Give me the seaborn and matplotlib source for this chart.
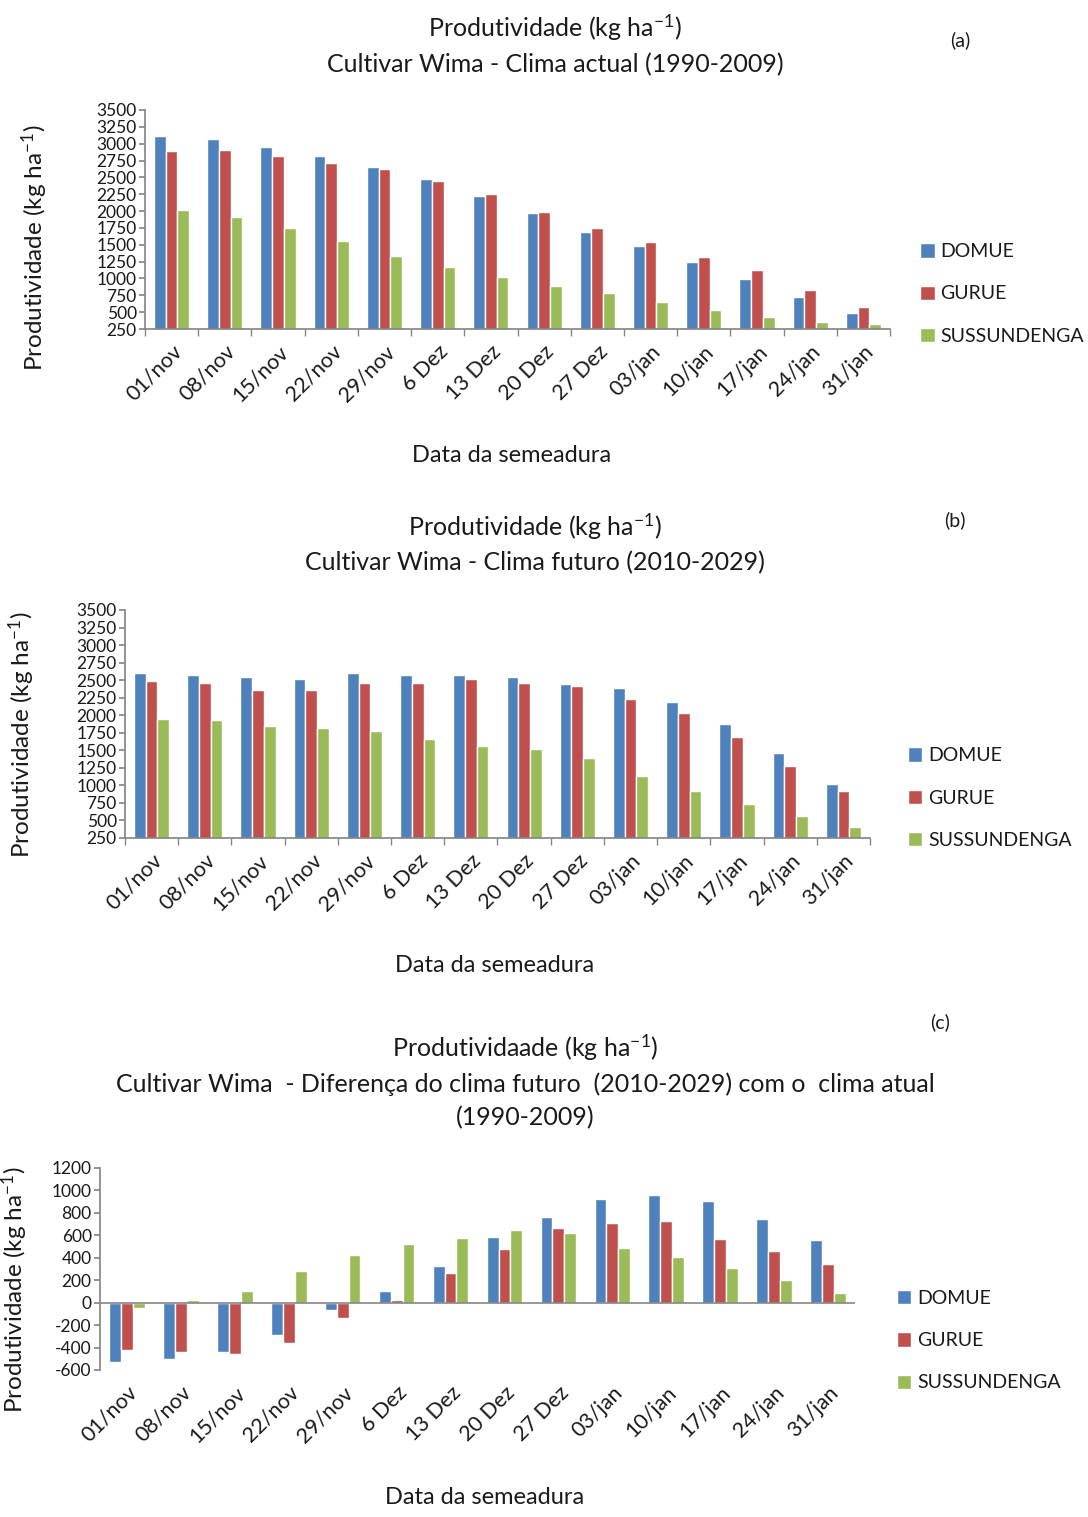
import numpy as np
import pandas as pd
import matplotlib
matplotlib.use('Agg')
import matplotlib.pyplot as plt
import seaborn as sns

datas = ['01/nov', '08/nov', '15/nov', '22/nov', '29/nov', '6 Dez', '13 Dez',
         '20 Dez', '27 Dez', '03/jan', '10/jan', '17/jan', '24/jan', '31/jan']
locais = ['DOMUE', 'GURUE', 'SUSSUNDENGA']
cores = ['#4F81BD', '#C0504D', '#9BBB59']

# (a) clima actual 1990-2009
atual_domue = [3115, 3065, 2955, 2820, 2660, 2470, 2230, 1965, 1695, 1475, 1240, 995, 730, 487]
atual_gurue = [2895, 2900, 2820, 2710, 2625, 2445, 2255, 1990, 1745, 1535, 1315, 1130, 835, 570]
atual_suss = [2010, 1910, 1745, 1555, 1340, 1165, 1020, 890, 785, 650, 537, 428, 349, 324]

# (b) clima futuro 2010-2029
futuro_domue = [2595, 2570, 2540, 2515, 2595, 2570, 2570, 2540, 2440, 2385, 2185, 1875, 1460, 1020]
futuro_gurue = [2490, 2465, 2360, 2360, 2465, 2465, 2510, 2465, 2420, 2235, 2030, 1690, 1280, 915]
futuro_suss = [1950, 1925, 1850, 1815, 1770, 1665, 1565, 1515, 1390, 1130, 925, 740, 570, 400]

# (c) diferenca futuro - actual
dif_domue = [-530, -500, -440, -290, -65, 105, 330, 585, 765, 925, 955, 910, 745, 555]
dif_gurue = [-420, -440, -455, -355, -140, 20, 265, 475, 665, 710, 730, 570, 460, 345]
dif_suss = [-50, 20, 105, 285, 425, 525, 575, 650, 620, 490, 410, 310, 200, 90]

sns.set_theme(style='white')
plt.rcParams['font.family'] = ['Lato', 'DejaVu Sans']
plt.rcParams['mathtext.fontset'] = 'custom'
plt.rcParams['mathtext.rm'] = 'Lato'
plt.rcParams['mathtext.default'] = 'regular'
plt.rcParams['text.color'] = '#1a1a1a'
plt.rcParams['xtick.color'] = '#1a1a1a'
plt.rcParams['ytick.color'] = '#1a1a1a'

cinza = '#868686'
ylab = r'Produtividade (kg ha$^{-1}$)'


def tabela(domue, gurue, suss):
    return pd.DataFrame({
        'Data': datas * 3,
        'Local': np.repeat(locais, len(datas)),
        'Produtividade': domue + gurue + suss,
    })


def painel(ax, df, ylim, yticks, leg_y, leg_x, zero_line=False):
    sns.barplot(data=df, x='Data', y='Produtividade', hue='Local',
                palette=dict(zip(locais, cores)), width=0.66, gap=0,
                saturation=1, ax=ax)
    ax.set_ylim(*ylim)
    ax.set_xlim(-0.5, len(datas) - 0.5)
    ax.set_yticks(yticks)
    ax.set_yticklabels([str(t) for t in yticks], fontsize=12.5)
    ax.set_xticks(range(len(datas)))
    ax.set_xticklabels(datas, rotation=45, ha='right', rotation_mode='anchor', fontsize=15.5)
    ax.set_xticks(np.arange(-0.5, len(datas), 1), minor=True)
    ax.tick_params(axis='x', which='major', length=0, pad=9)
    ax.tick_params(axis='x', which='minor', length=5, color=cinza, direction='out', bottom=True)
    ax.tick_params(axis='y', length=4, color=cinza, direction='out', left=True, pad=2)
    for s in ['top', 'right']:
        ax.spines[s].set_visible(False)
    ax.spines['left'].set_color(cinza)
    ax.spines['bottom'].set_color(cinza)
    if zero_line:
        ax.spines['bottom'].set_visible(False)
        ax.axhline(0, color=cinza, lw=1.2)
        ax.tick_params(axis='x', which='minor', length=0)
    ax.set_xlabel('')
    ax.set_ylabel('')
    ax.legend(loc='center left', bbox_to_anchor=(leg_x, leg_y), frameon=False,
              handlelength=0.75, handleheight=0.75, handletextpad=0.3,
              labelspacing=1.3, fontsize=14, borderaxespad=0)


fig = plt.figure(figsize=(10.88, 15.17), dpi=100)
W, H = 1088, 1517


def eixo(left, top, right, bottom):
    return fig.add_axes([left / W, 1 - bottom / H, (right - left) / W, (bottom - top) / H])


ax_a = eixo(145, 110, 890, 329)
painel(ax_a, tabela(atual_domue, atual_gurue, atual_suss), (250, 3500),
       list(range(250, 3501, 250)), 0.16, 1.03)
ax_b = eixo(125, 610, 870, 838)
painel(ax_b, tabela(futuro_domue, futuro_gurue, futuro_suss), (250, 3500),
       list(range(250, 3501, 250)), 0.175, 1.04)
ax_c = eixo(100, 1168, 855, 1370)
painel(ax_c, tabela(dif_domue, dif_gurue, dif_suss), (-600, 1200),
       list(range(-600, 1201, 200)), 0.145, 1.045, zero_line=True)


def texto(x, y, s, **kw):
    fig.text(x / W, 1 - y / H, s, ha='center', va='center', **kw)


# titulos
texto(555, 28, ylab, fontsize=18)
texto(555, 65, 'Cultivar Wima - Clima actual (1990-2009)', fontsize=18)
texto(960, 40, '(a)', fontsize=14)
texto(535, 527, ylab, fontsize=18)
texto(535, 563, 'Cultivar Wima - Clima futuro (2010-2029)', fontsize=18)
texto(955, 520, '(b)', fontsize=14)
texto(525, 1048, r'Produtividaade (kg ha$^{-1}$)', fontsize=18)
texto(525, 1084, 'Cultivar Wima  - Diferença do clima futuro  (2010-2029) com o  clima atual', fontsize=18)
texto(525, 1118, '(1990-2009)', fontsize=18)
texto(940, 1022, '(c)', fontsize=14)

# eixos
texto(512, 455, 'Data da semeadura', fontsize=17)
texto(495, 965, 'Data da semeadura', fontsize=17)
texto(485, 1497, 'Data da semeadura', fontsize=17)
texto(35, 248, ylab, fontsize=17.5, rotation=90)
texto(22, 735, ylab, fontsize=17.5, rotation=90)
texto(15, 1290, ylab, fontsize=17.5, rotation=90)

fig.savefig('out.png', dpi=100)
